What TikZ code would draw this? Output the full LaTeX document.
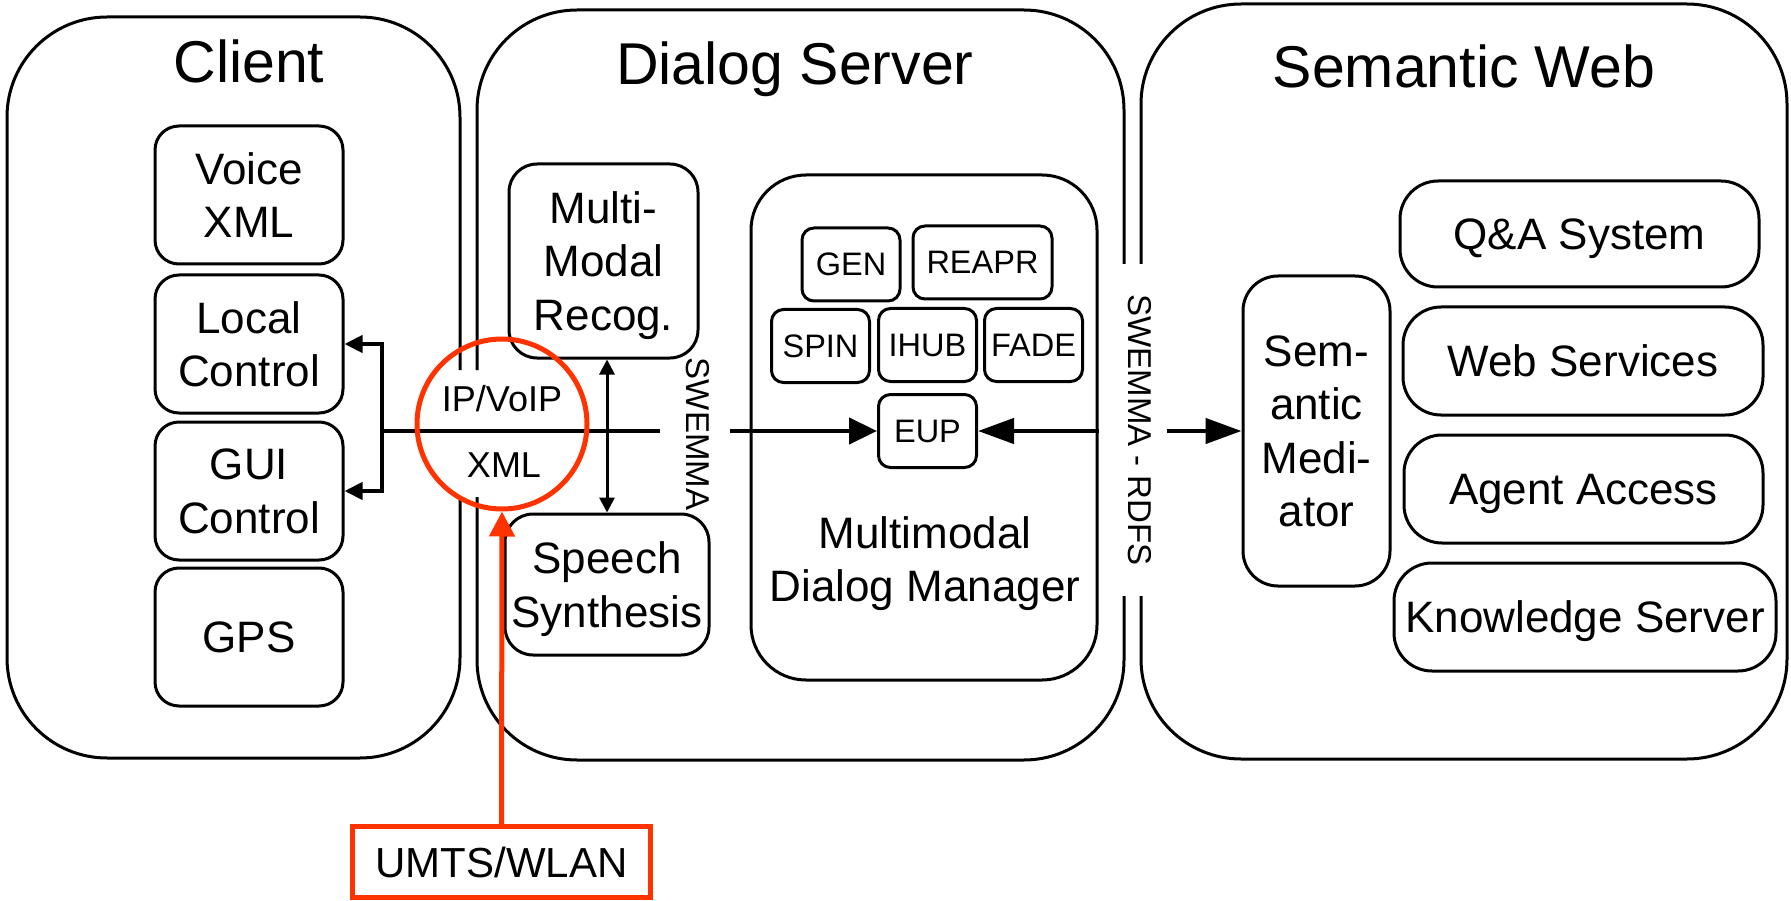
\documentclass[tikz,border=0pt]{standalone}
\usepackage{fontspec}
\setmainfont{Liberation Sans}
\usetikzlibrary{arrows.meta}
\definecolor{signal}{HTML}{FF3300}

\begin{document}
\begin{tikzpicture}[x=1pt,y=-1pt,
  container/.style={line width=3pt, rounded corners=100pt},
  unit/.style={draw, line width=3pt, rounded corners=#1, inner sep=0pt,
    align=center, text depth=0pt, font=\fontsize{44}{53.5}\selectfont},
  unit/.default=24pt,
  part/.style={draw, line width=3pt, rounded corners=12pt, inner sep=0pt,
    minimum width=98pt, minimum height=73pt, text depth=0pt,
    font=\fontsize{32.5}{36}\selectfont},
  title/.style={anchor=base, font=\fontsize{59}{65}\selectfont},
  label/.style={inner sep=0pt, font=\fontsize{36}{40}\selectfont},
  vlabel/.style={inner sep=0pt, rotate=-90, font=\fontsize{33}{36}\selectfont},
  wire/.style={line width=4pt},
  flow/.style={line width=4.5pt, -{Triangle[length=28pt,width=26pt]}},
  flowlong/.style={line width=4.5pt, -{Triangle[length=36pt,width=25pt]}},
  twoway/.style={line width=3pt, {Triangle[length=15pt,width=15pt]}-{Triangle[length=15pt,width=15pt]}},
  fork/.style={line width=4pt, {Triangle[length=18pt,width=17pt]}-{Triangle[length=18pt,width=17pt]}},
  radio/.style={draw=signal, line width=5pt},
]
\useasboundingbox (0,0) rectangle (1791,901);

% the three tiers, their borders opened where the interfaces pass through
\draw[container] (460,497) -- (460,758) -- (7,758) -- (7,17) -- (460,17) -- (460,370);
\draw[container] (477,370) -- (477,10) -- (1124,10) -- (1124,264);
\draw[container] (477,497) -- (477,760) -- (1124,760) -- (1124,596);
\draw[container] (1141,264) -- (1141,4) -- (1787,4) -- (1787,759) -- (1141,759) -- (1141,596);

\node[title] (tclient) at (249,83) {Client};
\node[title] (tserver) at (795,85) {Dialog Server};
\node[title] (tweb) at (1464,88) {Semantic Web};

% client components
\node[unit, minimum width=188pt, minimum height=138pt] (voice) at (249,195) {Voice\\XML};
\node[unit, minimum width=188pt, minimum height=138pt] (local) at (249,344) {Local\\Control};
\node[unit, minimum width=188pt, minimum height=138pt] (gui) at (249,491) {GUI\\Control};
\node[unit, minimum width=188pt, minimum height=138pt] (gps) at (249,637) {GPS};

% dialog server components
\node[unit=28pt, minimum width=189pt, minimum height=194pt] (mmr) at (603.5,261) {Multi-\\Modal\\Recog.};
\node[unit=28pt, minimum width=204pt, minimum height=141pt] (speech) at (607,584.5) {Speech\\Synthesis};
\node[draw, line width=3pt, rounded corners=55pt, minimum width=346pt, minimum height=505pt] (dm) at (924,427.5) {};
\node[inner sep=0pt, align=center, text depth=0pt, font=\fontsize{44}{53.5}\selectfont] (dmlabel) at (925,559) {Multimodal\\Dialog Manager};

\node[part] (gen) at (851,264.5) {GEN};
\node[part, minimum width=139pt] (reapr) at (982.5,262.5) {REAPR};
\node[part] (spin) at (820.5,346) {SPIN};
\node[part] (ihub) at (927.5,345) {IHUB};
\node[part] (fade) at (1033.5,345) {FADE};
\node[part] (eup) at (927.5,431) {EUP};

% semantic web components
\node[unit=35pt, minimum width=147pt, minimum height=310pt] (med) at (1316.5,431) {Sem-\\antic\\Medi-\\ator};
\node[unit=38pt, minimum width=359pt, minimum height=106pt] (qa) at (1579.5,234) {Q\&A System};
\node[unit=38pt, minimum width=360pt, minimum height=108pt] (ws) at (1583,361) {Web Services};
\node[unit=38pt, minimum width=359pt, minimum height=108pt] (aa) at (1583.5,489) {Agent Access};
\node[unit=38pt, minimum width=382pt, minimum height=108pt] (ks) at (1585,617) {Knowledge Server};

% interface labels
\node[label, anchor=base] (ip) at (502,411) {IP/VoIP};
\node[label, anchor=base] (xml) at (504,477) {XML};
\node[vlabel] (sw1) at (698,434) {SWEMMA};
\node[vlabel] (sw2) at (1140,430) {SWEMMA - RDFS};

% connectors
\coordinate (hub) at (382,431);
\coordinate (gapL) at (660,431);
\coordinate (gapR) at (730,431);
\coordinate (swout) at (1167,431);

\draw[fork] (local.east) -- (hub |- local.east) -- (hub |- gui.east) -- (gui.east);
\draw[wire] (hub) -- (gapL);
\draw[flow] (gapR) -- (eup.west);
\draw[flowlong] (dm.east |- eup.east) -- (eup.east);
\draw[flowlong] (swout) -- (med.west);
\draw[twoway] (mmr.south -| speech.north) -- (speech.north);

% wireless link
\node[radio, circle, minimum size=170pt, inner sep=0pt] (ring) at (502,424) {};
\node[radio, minimum width=298pt, minimum height=71pt, inner sep=0pt,
  text depth=0pt, font=\fontsize{42}{46}\selectfont] (umts) at (501.5,862) {UMTS/WLAN};
\draw[draw=signal, line width=5pt, -{Triangle[length=25pt,width=25pt]}, signal] (umts.north) -- (ring.south);
\end{tikzpicture}
\end{document}
